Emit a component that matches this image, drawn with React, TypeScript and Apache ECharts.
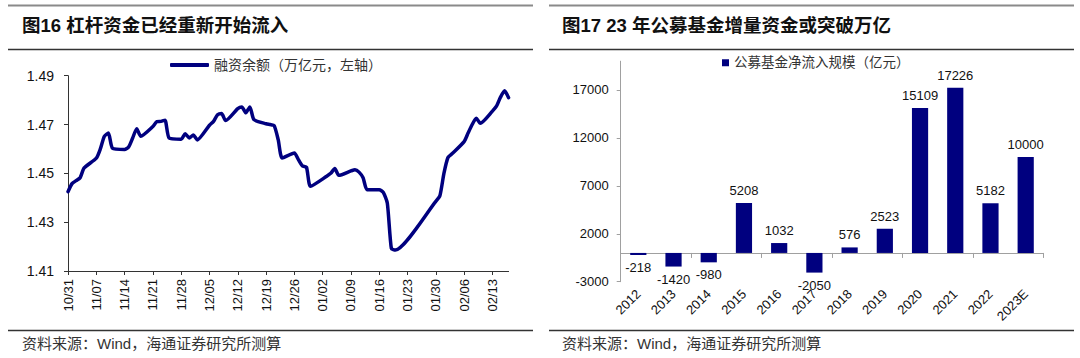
import React, { useEffect, useRef } from "react";
import * as echarts from "echarts";

// ---------- Left panel data: 融资余额（万亿元） ----------
const tradeDates = [
  "2022-10-31", "2022-11-01", "2022-11-02", "2022-11-03", "2022-11-04",
  "2022-11-07", "2022-11-08", "2022-11-09", "2022-11-10", "2022-11-11",
  "2022-11-14", "2022-11-15", "2022-11-16", "2022-11-17", "2022-11-18",
  "2022-11-21", "2022-11-22", "2022-11-23", "2022-11-24", "2022-11-25",
  "2022-11-28", "2022-11-29", "2022-11-30", "2022-12-01", "2022-12-02",
  "2022-12-05", "2022-12-06", "2022-12-07", "2022-12-08", "2022-12-09",
  "2022-12-12", "2022-12-13", "2022-12-14", "2022-12-15", "2022-12-16",
  "2022-12-19", "2022-12-20", "2022-12-21", "2022-12-22", "2022-12-23",
  "2022-12-26", "2022-12-27", "2022-12-28", "2022-12-29", "2022-12-30",
  "2023-01-03", "2023-01-04", "2023-01-05", "2023-01-06",
  "2023-01-09", "2023-01-10", "2023-01-11", "2023-01-12", "2023-01-13",
  "2023-01-16", "2023-01-17", "2023-01-18", "2023-01-19", "2023-01-20",
  "2023-01-30", "2023-01-31", "2023-02-01", "2023-02-02", "2023-02-03",
  "2023-02-06", "2023-02-07", "2023-02-08", "2023-02-09", "2023-02-10",
  "2023-02-13", "2023-02-14", "2023-02-15", "2023-02-16", "2023-02-17",
];
const marginBalance = [
  1.4425, 1.4458, 1.447, 1.4482, 1.4522,
  1.4562, 1.46, 1.4652, 1.4665, 1.4603,
  1.4598, 1.4608, 1.4645, 1.4683, 1.4652,
  1.4692, 1.4712, 1.4713, 1.4718, 1.4645,
  1.464, 1.4662, 1.4645, 1.4657, 1.4637,
  1.4697, 1.4713, 1.474, 1.4745, 1.4716,
  1.4765, 1.4772, 1.4748, 1.4772, 1.472,
  1.4703, 1.47, 1.4696, 1.4638, 1.4563,
  1.4583, 1.4556, 1.453, 1.4525, 1.4447,
  1.4488, 1.45, 1.452, 1.4492,
  1.451, 1.4515, 1.4505, 1.4482, 1.4433,
  1.4433, 1.4422, 1.4378, 1.4192, 1.4186,
  1.4385, 1.4408, 1.45, 1.4565, 1.458,
  1.463, 1.4666, 1.47, 1.4726, 1.4705,
  1.4755, 1.4775, 1.4812, 1.4838, 1.481,
];
const leftYMin = 1.41;
const leftYMax = 1.49;
const leftYStep = 0.02;

// ---------- Right panel data: 公募基金净流入规模（亿元） ----------
const years = ["2012", "2013", "2014", "2015", "2016", "2017", "2018", "2019", "2020", "2021", "2022", "2023E"];
const fundInflow = [-218, -1420, -980, 5208, 1032, -2050, 576, 2523, 15109, 17226, 5182, 10000];
const rightYMin = -3000;
const rightYMax = 20000;
const rightYStep = 5000;

const leftTitle = "图16 杠杆资金已经重新开始流入";
const rightTitle = "图17 23 年公募基金增量资金或突破万亿";
const sourceText = "资料来源：Wind，海通证券研究所测算";
const lineName = "融资余额（万亿元，左轴）";
const barName = "公募基金净流入规模（亿元）";

const FONT = "'Liberation Sans', Arial, 'Noto Sans CJK SC', sans-serif";
const NAVY = "#00007f";

function pad2(n: number) {
  return n < 10 ? "0" + n : "" + n;
}

function buildCalendar() {
  const toUTC = (s: string) => {
    const [y, m, d] = s.split("-").map(Number);
    return Date.UTC(y, m - 1, d);
  };
  const valueByDay = new Map<number, number>();
  tradeDates.forEach((d, i) => valueByDay.set(toUTC(d), marginBalance[i]));
  const start = toUTC(tradeDates[0]);
  const end = toUTC(tradeDates[tradeDates.length - 1]);
  const cats: string[] = [];
  const vals: (number | null)[] = [];
  for (let t = start; t <= end; t += 86400000) {
    const dt = new Date(t);
    cats.push(pad2(dt.getUTCMonth() + 1) + "/" + pad2(dt.getUTCDate()));
    vals.push(valueByDay.has(t) ? (valueByDay.get(t) as number) : null);
  }
  return { cats, vals };
}

export default function App() {
  const ref = useRef<HTMLDivElement>(null);

  useEffect(() => {
    if (!ref.current) return;
    const chart = echarts.init(ref.current, undefined, { renderer: "svg" });
    const { cats, vals } = buildCalendar();

    const barData = fundInflow.map((v) => ({
      value: v,
      label: { position: v < 0 ? "bottom" : "top" },
    }));

    const ruleStyle = (w: number, c: string) => ({ stroke: c, lineWidth: w });

    const option: any = {
      animation: false,
      backgroundColor: "#ffffff",
      textStyle: { fontFamily: FONT },
      graphic: [
        { type: "line", shape: { x1: 8, y1: 5.5, x2: 533, y2: 5.5 }, style: ruleStyle(2.2, "#8a8a8a") },
        { type: "line", shape: { x1: 549, y1: 5.5, x2: 1074, y2: 5.5 }, style: ruleStyle(2.2, "#8a8a8a") },
        { type: "line", shape: { x1: 8, y1: 49.5, x2: 533, y2: 49.5 }, style: ruleStyle(1.3, "#333333") },
        { type: "line", shape: { x1: 549, y1: 49.5, x2: 1074, y2: 49.5 }, style: ruleStyle(1.3, "#333333") },
        { type: "line", shape: { x1: 8, y1: 330.5, x2: 533, y2: 330.5 }, style: ruleStyle(1.3, "#333333") },
        { type: "line", shape: { x1: 549, y1: 330.5, x2: 1074, y2: 330.5 }, style: ruleStyle(1.3, "#333333") },
        {
          type: "text", x: 22, y: 25,
          style: { text: leftTitle, font: "bold 18.5px " + FONT, fill: "#111", textVerticalAlign: "middle" },
        },
        {
          type: "text", x: 562, y: 25,
          style: { text: rightTitle, font: "bold 18.5px " + FONT, fill: "#111", textVerticalAlign: "middle" },
        },
        {
          type: "text", x: 22, y: 343,
          style: { text: sourceText, font: "15px " + FONT, fill: "#333", textVerticalAlign: "middle" },
        },
        {
          type: "text", x: 562, y: 343,
          style: { text: sourceText, font: "15px " + FONT, fill: "#333", textVerticalAlign: "middle" },
        },
      ],
      legend: [
        {
          data: [lineName],
          left: 170, top: 58, padding: 0,
          icon: "roundRect", itemWidth: 39, itemHeight: 4,
          textStyle: { fontSize: 14, color: "#333", fontFamily: FONT },
        },
        {
          data: [barName],
          left: 722, top: 56, padding: 0,
          icon: "rect", itemWidth: 7, itemHeight: 7,
          textStyle: { fontSize: 13.5, color: "#333", fontFamily: FONT },
        },
      ],
      grid: [
        { left: 68, top: 75.7, width: 440.6, height: 195.3, containLabel: false },
        { left: 620.7, top: 61.2, width: 422.6, height: 220.5, containLabel: false },
      ],
      xAxis: [
        {
          gridIndex: 0, type: "category", data: cats, boundaryGap: false,
          axisLine: { lineStyle: { color: "#333", width: 1 } },
          axisTick: { interval: 6, length: 4, lineStyle: { color: "#333" } },
          axisLabel: { interval: 6, rotate: 90, margin: 8, fontSize: 13, color: "#111", fontFamily: FONT },
          splitLine: { show: false },
        },
        {
          gridIndex: 1, type: "category", data: years,
          axisLine: { onZero: true, lineStyle: { color: "#a0a0a0", width: 1 } },
          axisTick: { show: true, length: 5, lineStyle: { color: "#a0a0a0" } },
          axisLabel: { show: false },
          splitLine: { show: false },
        },
        {
          gridIndex: 1, type: "category", data: years, position: "bottom",
          axisLine: { show: false, onZero: false },
          axisTick: { show: false },
          axisLabel: { rotate: 45, margin: 10, fontSize: 13, color: "#111", fontFamily: FONT },
          splitLine: { show: false },
        },
      ],
      yAxis: [
        {
          gridIndex: 0, type: "value", min: leftYMin, max: leftYMax, interval: leftYStep,
          axisLine: { show: true, lineStyle: { color: "#333", width: 1 } },
          axisTick: { show: true, length: 4, lineStyle: { color: "#333" } },
          axisLabel: { margin: 14, fontSize: 14, color: "#111", fontFamily: FONT, formatter: (v: number) => v.toFixed(2) },
          splitLine: { show: false },
        },
        {
          gridIndex: 1, type: "value", min: rightYMin, max: rightYMax, interval: rightYStep,
          axisLine: { show: true, lineStyle: { color: "#a0a0a0", width: 1 } },
          axisTick: { show: true, length: 4, lineStyle: { color: "#a0a0a0" } },
          axisLabel: {
            margin: 12, fontSize: 13, color: "#111", fontFamily: FONT, showMaxLabel: false,
            formatter: (v: number) => (v >= rightYMax ? "" : String(v)),
          },
          splitLine: { show: false },
        },
      ],
      series: [
        {
          name: lineName, type: "line", xAxisIndex: 0, yAxisIndex: 0,
          data: vals, connectNulls: true, showSymbol: false, symbol: "none",
          smooth: 0.2,
          lineStyle: { color: NAVY, width: 3.5, cap: "round", join: "round" },
          itemStyle: { color: NAVY },
        },
        {
          name: barName, type: "bar", xAxisIndex: 1, yAxisIndex: 1,
          data: barData, barWidth: "46%",
          itemStyle: { color: NAVY },
          label: { show: true, distance: 6, fontSize: 13, color: "#111", fontFamily: FONT },
        },
      ],
    };

    chart.setOption(option);
    return () => chart.dispose();
  }, []);

  return (
    <div
      ref={ref}
      style={{ position: "absolute", left: 0, top: 0, width: 1080, height: 358, background: "#fff" }}
    />
  );
}
